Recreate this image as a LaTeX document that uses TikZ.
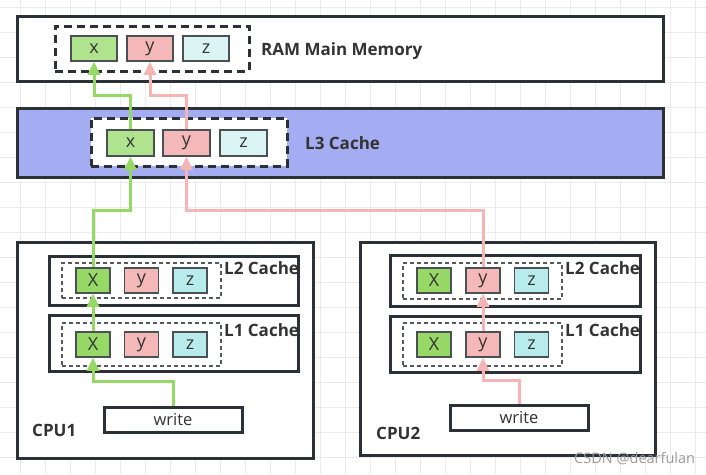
\documentclass[tikz,border=0pt]{standalone}
\usepackage{fontspec}
\setmainfont{Open Sans}
\usetikzlibrary{arrows.meta}
\definecolor{edge}{HTML}{2B3137}
\definecolor{txt}{HTML}{333333}
\definecolor{lthree}{HTML}{A4ADF2}
\definecolor{gA}{HTML}{B0E38E}
\definecolor{gB}{HTML}{97D967}
\definecolor{pk}{HTML}{F4B8B8}
\definecolor{zA}{HTML}{DBF4F4}
\definecolor{zB}{HTML}{B8ECEC}
\definecolor{garr}{HTML}{95D866}
\definecolor{parr}{HTML}{F5B5B5}
\definecolor{gridc}{HTML}{EBEBEB}
\tikzset{
  bigbox/.style={draw=edge, line width=3pt, rectangle, inner sep=0pt},
  bigdash/.style={draw=edge, fill=white, line width=3pt, dash pattern=on 8pt off 5pt, rectangle, inner sep=0pt},
  smalldash/.style={draw=edge!80, line width=1.3pt, dash pattern=on 4pt off 3pt, rectangle, inner sep=0pt},
  cellA/.style={draw=edge!85, line width=1.5pt, rectangle, inner sep=0pt, minimum width=46pt, minimum height=25pt, text=txt, font=\fontsize{18}{18}\selectfont},
  cellB/.style={draw=edge!85, line width=1.5pt, rectangle, inner sep=0pt, minimum width=34pt, minimum height=25pt, text=txt, font=\fontsize{18}{18}\selectfont},
  lbl/.style={anchor=base west, inner sep=0pt, text=txt, font=\bfseries\fontsize{17}{17}\selectfont},
  wbox/.style={draw=edge, line width=3pt, rectangle, inner sep=0pt, minimum width=138pt, minimum height=25pt, text=txt, font=\fontsize{16.5}{16.5}\selectfont},
  garrow/.style={draw=garr, line width=3pt, -{Triangle[width=12pt,length=13pt]}},
  parrow/.style={draw=parr, line width=3pt, -{Triangle[width=12pt,length=13pt]}},
}
\begin{document}
\begin{tikzpicture}[x=1pt, y=-1pt]
\useasboundingbox (0,0) rectangle (706,474);
% background grid
\foreach \gx in {20,45,...,700} \draw[gridc, line width=1pt] (\gx,0) -- (\gx,474);
\foreach \gy in {7,32,...,474} \draw[gridc, line width=1pt] (0,\gy) -- (706,\gy);

% RAM
\node[bigbox, fill=white, minimum width=646pt, minimum height=65pt] (ram) at (340,48.5) {};
\node[bigdash, minimum width=194pt, minimum height=45pt] (ramd) at (152,48.5) {};
\node[cellA, fill=gA] (ramx) at (94,48.5) {x};
\node[cellA, fill=pk] (ramy) at (150,48.5) {y};
\node[cellA, fill=zA] (ramz) at (206,48.5) {z};
\node[lbl] (ramlbl) at (261,55) {RAM Main Memory};

% L3
\node[bigbox, fill=lthree, minimum width=646pt, minimum height=69pt] (l3) at (340,142.5) {};
\node[bigdash, minimum width=196pt, minimum height=48pt] (l3d) at (189,142) {};
\node[cellA, fill=gA, minimum width=47pt, minimum height=26pt] (l3x) at (130.5,143) {x};
\node[cellA, fill=pk, minimum width=47pt, minimum height=26pt] (l3y) at (186.5,143) {y};
\node[cellA, fill=zA, minimum width=47pt, minimum height=26pt] (l3z) at (243.5,143) {z};
\node[lbl] (l3lbl) at (305,149) {L3 Cache};

% CPU1
\node[bigbox, fill=white, minimum width=296pt, minimum height=216pt] (cpua) at (165,350) {};
\node[bigbox, fill=white, minimum width=249pt, minimum height=49pt] (l2a) at (173.5,280.5) {};
\node[smalldash, minimum width=159pt, minimum height=35pt] (l2ad) at (141.5,280.5) {};
\node[cellB, fill=gB] (x2a) at (93,280.5) {X};
\node[cellB, fill=pk] (y2a) at (141.5,280.5) {y};
\node[cellB, fill=zB] (z2a) at (190,280.5) {z};
\node[lbl] (l2alb) at (224,274.3) {L2 Cache};
\node[bigbox, fill=white, minimum width=249pt, minimum height=56pt] (l1a) at (173.5,343) {};
\node[smalldash, minimum width=159pt, minimum height=43pt] (l1ad) at (141.5,344.5) {};
\node[cellB, fill=gB] (x1a) at (93,344.5) {X};
\node[cellB, fill=pk] (y1a) at (141.5,344.5) {y};
\node[cellB, fill=zB] (z1a) at (190,344.5) {z};
\node[lbl] (l1alb) at (224,336.7) {L1 Cache};
\node[wbox, fill=white] (w1) at (173,419.5) {write};
\node[lbl] (cpualb) at (32,436) {CPU1};

% CPU2
\node[bigbox, fill=white, minimum width=295pt, minimum height=213pt] (cpub) at (507.5,348.5) {};
\node[bigbox, fill=white, minimum width=250pt, minimum height=51pt] (l2b) at (515,280.5) {};
\node[smalldash, minimum width=159pt, minimum height=36pt] (l2bd) at (482.5,281) {};
\node[cellB, fill=gB] (x2b) at (434,280.5) {X};
\node[cellB, fill=pk] (y2b) at (483,280.5) {y};
\node[cellB, fill=zB] (z2b) at (531.5,280.5) {z};
\node[lbl] (l2blb) at (565,274) {L2 Cache};
\node[bigbox, fill=white, minimum width=250pt, minimum height=56pt] (l1b) at (515,344) {};
\node[smalldash, minimum width=159pt, minimum height=43pt] (l1bd) at (482.5,344.5) {};
\node[cellB, fill=gB] (x1b) at (434,344.5) {X};
\node[cellB, fill=pk] (y1b) at (483,344.5) {y};
\node[cellB, fill=zB] (z1b) at (531.5,344.5) {z};
\node[lbl] (l1blb) at (565,336.7) {L1 Cache};
\node[wbox, fill=white] (w2) at (519,417.5) {write};
\node[lbl] (cpublb) at (376,439) {CPU2};

% green arrows
\draw[garrow] (w1.north) -- ++(0,-24) -| (x1a.south);
\draw[garrow] (x1a.north) -- (x2a.south);
\draw[garrow] (x2a.north) -- ++(0,-57) -| (l3x.south);
\draw[garrow] (l3x.north) -- ++(0,-34) -| (ramx.south);

% pink arrows
\draw[parrow] (w2.north) -- ++(0,-23) -| (y1b.south);
\draw[parrow] (y1b.north) -- (y2b.south);
\draw[parrow] (y2b.north) -- ++(0,-57) -| (l3y.south);
\draw[parrow] (l3y.north) -- ++(0,-34) -| (ramy.south);

% watermark
\node[anchor=base west, inner sep=0pt, text=black!40, font=\fontsize{14.5}{14.5}\selectfont] (wm) at (574,463) {CSDN @dearfulan};
\end{tikzpicture}
\end{document}
